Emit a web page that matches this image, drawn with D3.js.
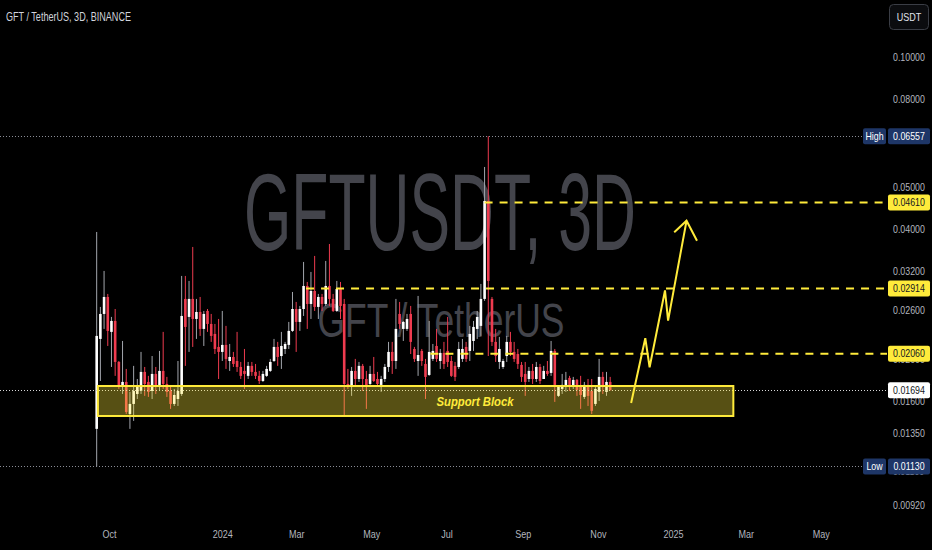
<!DOCTYPE html>
<html><head><meta charset="utf-8">
<script src="https://cdn.jsdelivr.net/npm/d3@7/dist/d3.min.js"></script>
<style>html,body{margin:0;padding:0;background:#000;}svg{display:block;}</style>
</head><body><svg id="c" width="932" height="550"></svg>
<script>
// ---- data ----
const startDate = "2023-09-21";      // first 3D candle
const stepDays = 3;
const opens  = [0.01380,0.02228,0.02545,0.02786,0.02313,0.02452,0.01971,0.01734,0.01772,0.01494,0.01576,0.01662,0.01689,0.01869,0.01772,0.01689,0.01849,0.01725,0.01879,0.01753,0.01689,0.01576,0.01618,
0.01662,0.02757,0.02505,0.02757,0.02478,0.02572,0.02350,0.02586,0.02413,0.02288,0.02135,0.02079,0.02158,0.01981,0.02024,0.01981,0.01919,0.01879,0.01830,0.01930,0.01869,0.01830,0.01781,
0.01830,0.01879,0.01981,0.02135,0.02034,0.02112,0.02158,0.02325,0.02613,0.02439,0.02613,0.02954,0.02684,0.02876,0.02642,0.02786,0.02684,0.02954,0.02757,0.02586,0.02907,0.02684,0.01753,0.01725,
0.01879,0.01800,0.01930,0.01800,0.01753,0.01849,0.01800,0.01744,0.01800,0.01919,0.02079,0.01981,0.02545,0.02350,0.02350,0.02545,0.02112,0.01981,0.02090,0.01950,0.01839,0.02003,0.02146,0.01981,
0.02068,0.02090,0.01981,0.01930,0.01919,0.02003,0.02135,0.02090,0.02204,0.02350,0.02388,0.02757,0.04645,0.02757,0.02193,0.01971,0.01919,0.02034,0.02193,0.02079,0.02056,0.01940,0.01849,0.01800,
0.01879,0.01800,0.01919,0.01800,0.01879,0.01859,0.02090,0.01645,0.01707,0.01725,0.01810,0.01725,0.01791,0.01725,0.01636,0.01744,0.01689,0.01576,0.01680,0.01820,0.01680,0.01772];
const highs  = [0.03938,0.02642,0.03200,0.02831,0.02505,0.02613,0.01981,0.02204,0.01899,0.01680,0.01930,0.01800,0.02079,0.01919,0.01830,0.02034,0.01919,0.02090,0.02313,0.01820,0.01734,0.01707,0.01981,
0.03116,0.03116,0.03034,0.03636,0.02757,0.02786,0.02586,0.02613,0.02545,0.02413,0.02478,0.02586,0.02388,0.02169,0.02079,0.02313,0.01971,0.02112,0.01971,0.01971,0.01950,0.01879,0.01879,
0.01930,0.02003,0.02228,0.02193,0.02313,0.02193,0.02439,0.02861,0.02713,0.02656,0.03357,0.03018,0.03183,0.03466,0.02831,0.02831,0.03375,0.03694,0.02831,0.03034,0.03018,0.02757,0.01899,0.01919,
0.02003,0.01971,0.01950,0.01879,0.01930,0.02024,0.01869,0.01830,0.01950,0.02193,0.02193,0.02757,0.02713,0.02452,0.02545,0.02656,0.02135,0.02801,0.02112,0.02003,0.02452,0.02169,0.02350,0.02112,
0.02193,0.02505,0.02034,0.01971,0.02193,0.02228,0.02193,0.02388,0.02452,0.02586,0.02986,0.05567,0.06557,0.02786,0.02350,0.02252,0.02003,0.02264,0.02313,0.02193,0.02112,0.01971,0.01971,0.01919,
0.01950,0.01971,0.01950,0.01930,0.01981,0.02204,0.02112,0.01734,0.01849,0.01869,0.01830,0.01820,0.01800,0.01830,0.01772,0.01800,0.01800,0.01725,0.02003,0.01869,0.01869,0.01820];
const lows   = [0.01130,0.01781,0.02350,0.02146,0.01919,0.01830,0.01707,0.01662,0.01494,0.01380,0.01440,0.01618,0.01662,0.01645,0.01636,0.01618,0.01662,0.01689,0.01707,0.01636,0.01535,0.01559,0.01559,
0.01645,0.01930,0.02079,0.02135,0.02228,0.02264,0.02146,0.02313,0.02193,0.02056,0.01800,0.01981,0.01899,0.01879,0.01919,0.01869,0.01800,0.01707,0.01800,0.01830,0.01800,0.01753,0.01772,
0.01820,0.01869,0.01971,0.01930,0.01899,0.02056,0.02112,0.02313,0.02079,0.02325,0.02518,0.02350,0.02478,0.02586,0.02478,0.02586,0.02656,0.02656,0.02572,0.02572,0.02478,0.01478,0.01707,0.01645,
0.01725,0.01772,0.01689,0.01535,0.01734,0.01772,0.01734,0.01680,0.01772,0.01869,0.01849,0.01899,0.02350,0.02204,0.02325,0.02056,0.01971,0.01830,0.01930,0.01618,0.01830,0.01981,0.01971,0.01899,
0.01899,0.01919,0.01820,0.01781,0.01899,0.01971,0.01971,0.01981,0.02090,0.02228,0.02264,0.02728,0.02034,0.02146,0.01971,0.01899,0.01899,0.01971,0.02034,0.01971,0.01899,0.01772,0.01645,0.01772,
0.01753,0.01772,0.01753,0.01800,0.01830,0.01830,0.01593,0.01636,0.01662,0.01680,0.01689,0.01707,0.01645,0.01535,0.01618,0.01559,0.01494,0.01559,0.01601,0.01662,0.01645,0.01707];
const closes = [0.02264,0.02545,0.02786,0.02325,0.02452,0.01971,0.01734,0.01772,0.01510,0.01576,0.01689,0.01725,0.01869,0.01753,0.01680,0.01849,0.01725,0.01879,0.01753,0.01680,0.01576,0.01653,0.01689,
0.02518,0.02375,0.02757,0.02478,0.02572,0.02350,0.02545,0.02413,0.02264,0.02112,0.02079,0.02158,0.02003,0.02024,0.01950,0.01919,0.01830,0.01849,0.01930,0.01869,0.01830,0.01781,0.01849,
0.01899,0.01971,0.02135,0.02024,0.02146,0.02169,0.02325,0.02613,0.02439,0.02613,0.02954,0.02684,0.02876,0.02642,0.02786,0.02684,0.02954,0.02757,0.02586,0.02907,0.02656,0.01753,0.01734,0.01879,
0.01800,0.01930,0.01800,0.01734,0.01849,0.01781,0.01753,0.01800,0.01919,0.02079,0.01981,0.02350,0.02413,0.02439,0.02478,0.02193,0.02003,0.02045,0.01981,0.01820,0.02079,0.02090,0.02003,0.02068,
0.01950,0.01971,0.01830,0.01820,0.02112,0.02112,0.02003,0.02288,0.02375,0.02505,0.02757,0.04645,0.03034,0.02193,0.02034,0.02112,0.01981,0.02193,0.02079,0.02003,0.01950,0.01820,0.01772,0.01879,
0.01800,0.01919,0.01781,0.01879,0.01849,0.02090,0.01744,0.01725,0.01744,0.01791,0.01725,0.01791,0.01698,0.01653,0.01744,0.01645,0.01519,0.01707,0.01820,0.01725,0.01772,0.01694];

const priceTicks = [0.1,0.08,0.05,0.04,0.032,0.026,0.02,0.016,0.0135,0.011,0.0092];
const timeTicks  = ["2023-10-01","2024-01-01","2024-03-01","2024-05-01","2024-07-01","2024-09-01","2024-11-01","2025-01-01","2025-03-01","2025-05-01"];
const timeLabels = ["Oct","2024","Mar","May","Jul","Sep","Nov","2025","Mar","May"];

const levelPrices = [0.0461, 0.02914, 0.0206];
const levelStarts = ["2024-08-01","2024-03-09","2024-06-18"];
const highPrice = 0.06557, lowPrice = 0.0113, lastPrice = 0.01694;
const blockStart = "2023-09-22", blockEnd = "2025-02-19";
const blockTop = 0.01734, blockBottom = 0.01478;
const arrowDates  = ["2024-11-28","2024-12-09T12:00","2024-12-13","2024-12-25T12:00","2024-12-28","2025-01-12"];
const arrowPrices = [0.01584, 0.02236, 0.01916, 0.02884, 0.02456, 0.04181];
const headDates  = ["2025-01-02","2025-01-20T12:00"];
const headPrices = [0.03932, 0.03760];

// ---- drawing ----
const svg = d3.select("#c");
const W = 932, H = 550, paneRight = 887;
const P = s => new Date(s.length > 10 ? s + "Z" : s + "T00:00Z");
const x = d3.scaleTime().domain([P("2023-10-01"), P("2025-01-01")]).range([109, 673]);
const y = d3.scaleLog().domain([0.0092, 0.1]).range([505, 57]);
const FONT = "'Liberation Sans', Arial, sans-serif";
const squeeze = (sel, f) => sel.each(function(){ const l = this.getComputedTextLength(); d3.select(this).attr("textLength", l*f).attr("lengthAdjust","spacingAndGlyphs"); });

svg.append("rect").attr("width", W).attr("height", H).attr("fill", "#000");

// watermark
svg.append("text").attr("x", 440).attr("y", 250).attr("text-anchor","middle")
  .attr("font-family", FONT).attr("font-size", 110).attr("fill", "#43444b")
  .attr("textLength", 392).attr("lengthAdjust","spacingAndGlyphs").text("GFTUSDT, 3D");
svg.append("text").attr("x", 441).attr("y", 337).attr("text-anchor","middle")
  .attr("font-family", FONT).attr("font-size", 48).attr("fill", "#43444b")
  .attr("textLength", 247).attr("lengthAdjust","spacingAndGlyphs").text("GFT / TetherUS");

// title
svg.append("text").attr("x", 6).attr("y", 21).attr("font-family", FONT).attr("font-size", 12.5)
  .attr("fill", "#d1d4dc").attr("textLength", 125).attr("lengthAdjust","spacingAndGlyphs")
  .text("GFT / TetherUS, 3D, BINANCE");

const pane = svg.append("g");
const dotted = (p, x2, col) => pane.append("line").attr("x1", 0).attr("x2", x2)
  .attr("y1", Math.round(y(p))+0.5).attr("y2", Math.round(y(p))+0.5)
  .attr("stroke", col).attr("stroke-width", 1).attr("stroke-dasharray", "1,2");
dotted(highPrice, 862, "#8a8d96");
dotted(lowPrice, 862, "#8a8d96");

// candles
const t0 = P(startDate);
const candles = opens.map((o, i) => ({ d: new Date(+t0 + i*stepDays*864e5), o, h: highs[i], l: lows[i], c: closes[i] }));
const up = "#ffffff", upWick = "#a3a6ad", dn = "#ef3b4f";
const cg = pane.append("g");
cg.selectAll("line.w").data(candles).join("line").attr("class","w")
  .attr("x1", d => x(d.d)).attr("x2", d => x(d.d))
  .attr("y1", d => y(d.h)).attr("y2", d => y(d.l))
  .attr("stroke", d => d.c >= d.o ? upWick : dn).attr("stroke-width", 1);
cg.selectAll("rect.b").data(candles).join("rect").attr("class","b")
  .attr("x", d => x(d.d) - 1.3).attr("width", 2.6)
  .attr("y", d => y(Math.max(d.o, d.c)))
  .attr("height", d => Math.max(1, Math.abs(y(d.o) - y(d.c))))
  .attr("fill", d => d.c >= d.o ? up : dn);

// level lines
levelPrices.forEach((p, i) => {
  pane.append("line").attr("x1", x(P(levelStarts[i]))).attr("x2", paneRight)
    .attr("y1", y(p)).attr("y2", y(p)).attr("stroke", "#ffeb3b").attr("stroke-width", 2)
    .attr("stroke-dasharray", "8,7");
});

// current price line
dotted(lastPrice, paneRight, "#d8d8d8");

// support block
pane.append("rect").attr("x", x(P(blockStart))).attr("width", x(P(blockEnd)) - x(P(blockStart)))
  .attr("y", y(blockTop)).attr("height", y(blockBottom) - y(blockTop))
  .attr("fill", "#ffeb3b").attr("fill-opacity", 0.34)
  .attr("stroke", "#ffeb3b").attr("stroke-width", 2);
pane.append("text").attr("x", 475).attr("y", (y(blockTop)+y(blockBottom))/2 + 5)
  .attr("text-anchor","middle").attr("font-family", FONT).attr("font-size", 13.5)
  .attr("font-weight","bold").attr("font-style","italic").attr("fill", "#ffeb3b")
  .attr("textLength", 77).attr("lengthAdjust","spacingAndGlyphs").text("Support Block");

// zigzag arrow
const pts = arrowDates.map((d, i) => [x(P(d)), y(arrowPrices[i])]);
pane.append("path").attr("d", d3.line()(pts)).attr("fill","none").attr("stroke","#ffeb3b")
  .attr("stroke-width", 2).attr("stroke-linejoin","miter");
const tip = pts[pts.length-1];
const head = headDates.map((d, i) => [x(P(d)), y(headPrices[i])]);
pane.append("path").attr("d", d3.line()([head[0], tip, head[1]])).attr("fill","none")
  .attr("stroke","#ffeb3b").attr("stroke-width", 2);

// price axis
const ya = svg.append("g").attr("transform", `translate(${paneRight},0)`)
  .call(d3.axisRight(y).tickValues(priceTicks).tickFormat(d3.format(".5f")).tickSize(0).tickPadding(6));
ya.select(".domain").remove();
ya.selectAll("text").attr("font-family", FONT).attr("font-size", 10.5).attr("fill", "#b2b5be").call(squeeze, 0.84);

// time axis
const xa = svg.append("g").attr("transform", `translate(0,527)`)
  .call(d3.axisBottom(x).tickValues(timeTicks.map(P)).tickFormat((d, i) => timeLabels[i]).tickSize(0).tickPadding(3));
xa.select(".domain").remove();
xa.selectAll("text").attr("font-family", FONT).attr("font-size", 11).attr("fill", "#b2b5be").call(squeeze, 0.82);

// price labels
function priceLabel(p, bg, fg, tag) {
  const yy = y(p);
  const g = svg.append("g");
  g.append("rect").attr("x", 888).attr("y", yy - 8).attr("width", 42).attr("height", 16).attr("rx", 2).attr("fill", bg);
  g.append("text").attr("x", 909).attr("y", yy + 3.8).attr("text-anchor","middle").attr("font-family", FONT)
    .attr("font-size", 10.5).attr("fill", fg).text(d3.format(".5f")(p)).call(squeeze, 0.84);
  if (tag) {
    g.append("rect").attr("x", 863).attr("y", yy - 8).attr("width", 23).attr("height", 16).attr("rx", 2).attr("fill", bg);
    g.append("text").attr("x", 874.5).attr("y", yy + 3.8).attr("text-anchor","middle").attr("font-family", FONT)
      .attr("font-size", 10.5).attr("fill", fg).text(tag).call(squeeze, 0.84);
  }
}
levelPrices.forEach(p => priceLabel(p, "#ffeb3b", "#131722"));
priceLabel(lastPrice, "#ffffff", "#131722");
priceLabel(highPrice, "#1e3667", "#ffffff", "High");
priceLabel(lowPrice, "#1e3667", "#ffffff", "Low");

// USDT button
svg.append("rect").attr("x", 889.5).attr("y", 4.5).attr("width", 39).attr("height", 25).attr("rx", 4)
  .attr("fill", "#0b0c0f").attr("stroke", "#3a3d45");
svg.append("text").attr("x", 909).attr("y", 21).attr("text-anchor","middle").attr("font-family", FONT)
  .attr("font-size", 11).attr("fill", "#e0e3eb").text("USDT").call(squeeze, 0.82);
</script></body></html>
